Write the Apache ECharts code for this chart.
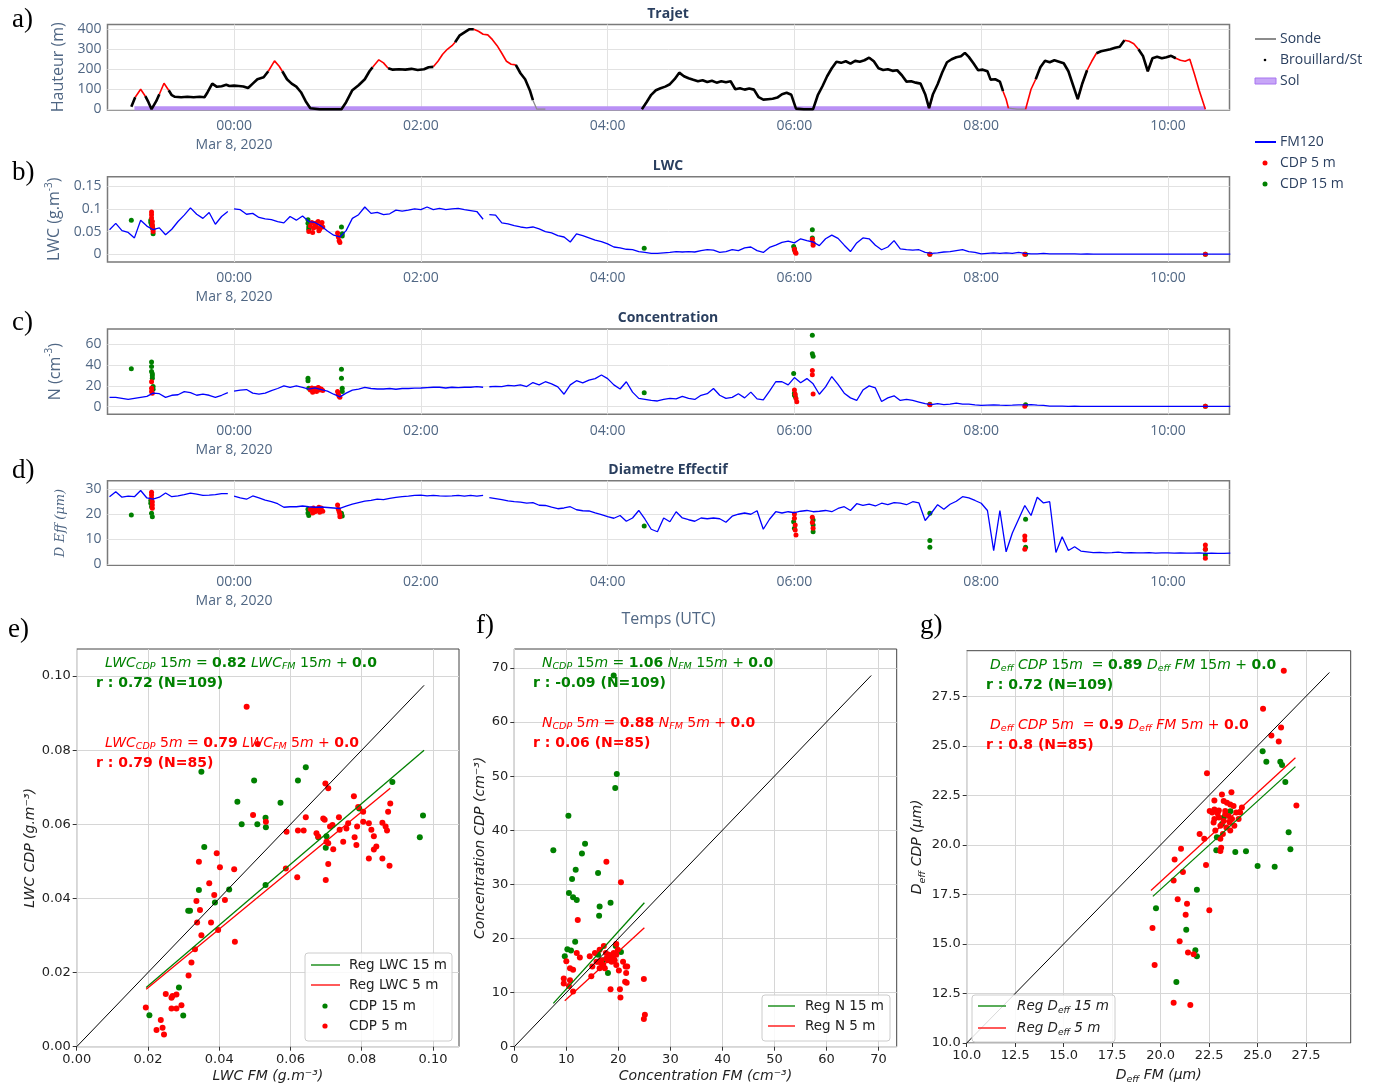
<!DOCTYPE html>
<html><head><meta charset="utf-8">
<script src="https://cdn.jsdelivr.net/npm/echarts@6/dist/echarts.min.js"></script>
<style>html,body{margin:0;padding:0;background:#fff}#c{width:1378px;height:1086px}</style>
</head><body><div id="c"></div>
<script>
// ---------------- time axis (minutes from 00:00, Mar 8 2020) ----------------
const timeTicks = [0, 120, 240, 360, 480, 600];

// ---------------- panel a : trajectory ----------------
const trajT = [-66,-63.5,-60,-57,-55,-53,-50,-48,-45,-42,-40,-38,-34,-30,-26,-22,-19,-17,-14,-11,-8,-5,-3,0,3,6,9,12,15,19,22,26,29,31,34,37,40,43,46,49,55,62,69,72,76,80,84,87,89,93,96,99,102,106,110,114,118,122,125,128,131,134,137,140,142,145,148,151,154,157,160,163,166,169,172,175,178,181,184,187,190,192,194.5,200,262,265,268,271,274,277,280,283,286,289,292,295,298,301,304,307,310,313,316,319,322,325,328,331,334,337,340,343,346,349,352,355,358,361,366,372,375,378,381,384,387,390,393,396,399,402,405,408,411,414,417,420,423,426,429,432,435,438,441,444,446.5,449,452,455,458,461,464,467,469.5,472,475,478,481,484,486,489,492,494,496,497.5,503,508.5,512,515,518,521,524,527,530,533,536,539,542,545,548,551,554,557,560,563,566,569,572,575,578,581,584,587,590,593,596,599,602,605,608,611,614,617,620,624];
const trajH = [12,60,100,65,35,0,40,75,130,95,70,62,60,62,60,62,60,85,128,112,115,122,116,118,116,114,106,128,150,160,190,242,215,190,150,128,113,85,40,5,0,0,0,35,95,120,150,190,210,247,232,205,198,200,198,202,196,200,210,212,240,275,300,318,335,370,385,400,400,390,375,372,348,318,280,240,225,222,180,150,95,45,0,0,0,35,72,95,105,113,125,150,183,165,155,147,140,145,136,142,133,140,135,140,100,105,98,104,98,60,48,50,52,58,75,82,72,3,0,0,70,115,165,205,238,232,240,228,242,238,245,258,240,205,196,200,192,195,170,138,140,133,128,75,5,75,125,185,235,250,260,265,282,262,230,195,198,190,148,150,138,90,50,5,0,0,100,150,210,242,235,245,238,230,190,120,50,130,195,240,280,290,295,300,308,313,345,340,328,300,265,190,255,262,255,260,267,255,245,240,250,175,95,0];
// time intervals (segment start times): red = outside fog, grey = probe ("Sonde") descents, none = no record
const trajRed = [[-63.5,-57],[-48,-42],[-14,-11],[-5,-3],[22,31],[89,99],[128,142],[154,181],[408,411],[446.5,449],[494,497.5],[508.5,515],[542,545],[548,554],[572,581],[587,590],[599,602],[605,625]];
const trajSonde = [[192,200],[497.5,508.5]];
const trajNone = [[200,262]];
const solT = [-64, 624];
const solH = [5, 5];

// ---------------- FM120 series (4-min sampling from -80 min) ----------------
const fmStart = -80, fmStep = 4;
const fmBreaks = [-2, 162];
const fmLWC = [0.054,0.068,0.052,0.048,0.036,0.075,0.062,0.054,0.058,0.043,0.055,0.072,0.086,0.102,0.088,0.079,0.092,0.066,0.083,0.094,
0.1,
0.098,0.088,0.09,0.081,0.078,0.076,0.072,0.069,0.083,0.075,0.084,0.072,0.07,0.062,0.051,0.042,0.038,0.052,0.079,0.087,0.104,0.09,0.092,0.087,0.089,0.097,0.095,0.097,0.1,0.098,0.104,0.098,0.101,0.098,0.1,0.101,0.098,0.096,0.094,0.077,
0.087,
0.086,0.069,0.067,0.063,0.06,0.058,0.06,0.056,0.05,0.047,0.041,0.038,0.027,0.045,0.041,0.036,0.031,0.028,0.023,0.016,0.014,0.011,0.01,0.006,0.004,0.002,0.002,0.003,0.004,0.006,0.005,
0.006,0.005,0.008,0.01,0.009,0.004,0.006,0.01,0.008,0.014,0.016,0.008,0.004,0.015,0.02,0.026,0.029,0.025,0.034,0.03,0.027,0.019,0.034,0.042,0.035,0.02,0.006,0.025,0.036,0.034,0.02,0.01,0.016,0.03,0.012,0.01,0.009,0.01,0.004,0.002,0.003,0.005,0.006,0.008,0.01,0.006,0.004,0.001,0.002,0.003,0.002,0.003,0.002,0.004,0.002,0.001,
0.001,0.002,0.001,0.001,0.001,0.0008,0.0008,0.0005,0.0006,0.0005,0.0005,0.0004,0.0005,0.0004,0.0004,0.0005,0.0004,0.0004,0.0003,0.0004,0.0004,0.0003,0.0003,0.0004,0.0003,0.0003,0.0003,0.0004,0.0003,0.0003,0.0003,0.0003];
const fmN = [9,9,8,7,8,9,10,13,12.5,9,11,11.5,14.5,13.5,11,12,11,9,11,13.5,
15,
16,16.5,13,12,13,15.5,17.5,20,18.5,20,18.5,17,18,16.5,15,12,9.5,13,16,17,18.5,17.5,17,17,17.5,16.8,17.5,17.5,17.8,18,18.4,18.7,18.7,18,18.7,18.4,18.7,18.7,19.4,18.7,
19.2,
19.5,19.4,20.6,20,21,19.4,23.2,21,24,22,19,12,21,25,23,25.5,27,30.5,27,21,17,24,14,8,7,6,5.5,7,8,7.5,10,
8,7,11,12.5,17.5,11,8,9,12.5,8.5,14,7.5,6.5,15,24,24,21,28,23,27,22,12,19,29,21.5,13,8.5,6,16,20,18,5,8.5,10.5,6,7,6,4.5,3,2,3,2,2.5,3.5,2.5,2.5,1.8,1.2,1.5,1.8,1.5,1.3,1.5,1.8,1.7,2,1.5,1.2,
0.6,0.5,0.5,0.4,0.5,0.4,0.4,0.4,0.3,0.4,0.3,0.3,0.4,0.3,0.3,0.3,0.3,0.3,0.3,0.3,0.3,0.3,0.3,0.3,0.3,0.3,0.3,0.3,0.3,0.3];
const fmD = [27,29,26.8,27.2,27,29.5,26.5,26,26.8,28.5,27,27.3,27.8,28.4,28,27.5,27.6,27.8,28.2,28.2,
27.2,
26.5,26,27.3,26.5,25.6,25,24.2,22.8,23,23,23.3,23,22.8,22.9,22.7,22.5,22.3,23.2,24,24.6,25.2,25.5,26,25.8,26.3,26.7,27,27.2,27.5,27.6,27.3,27.5,27.3,27.2,27.3,27.5,27.2,27.5,27.2,27.5,
26.6,
26.2,25.8,25.3,25,24.8,24.4,24.6,23.6,23.5,22.8,22.2,22.5,23,21.8,21.4,21.3,20.5,19.8,19,18.4,19.5,17.2,18.5,21.5,18,14,13,18.5,17,21,18.5,
17.8,17.2,18.5,18.2,18.5,18.2,16.8,19.2,20,20.5,20,21.4,14,18,21,20.5,21,20.6,21.2,21.5,21,21.2,21.5,21,22.3,23,21.5,24.2,23.5,24,23.3,24.4,23.8,24.6,24.4,23.8,25,24.5,17.5,20.5,23.8,22,24,25.2,27,26.5,25.5,24.4,21.5,5.5,21.5,5,12.5,18,23.5,19.5,26.8,24.5,25,4.7,11,5.5,7,5.3,5,
4.7,4.8,4.6,4.7,4.9,4.6,4.7,4.6,4.6,4.7,4.5,4.6,4.6,4.5,4.6,4.5,4.5,4.6,4.4,4.5,4.4,4.4,4.5];

// ---------------- CDP points on time panels ----------------
const lwc5T = [-53,-53,-53,-52.5,-52.5,-52.5,-52,-52,48,49,50,51,52,53,54,55,56,57,50.5,52.5,54.5,56.5,66.5,67,67.5,68,360,360.5,361,371.5,372,372,447,508,624];
const lwc5V = [0.093,0.087,0.08,0.072,0.065,0.06,0.055,0.05,0.05,0.062,0.07,0.058,0.066,0.06,0.072,0.055,0.064,0.06,0.048,0.068,0.052,0.07,0.047,0.038,0.03,0.026,0.011,0.005,0.002,0.033,0.025,0.02,0.0,0.0,0.0];
const lwc15T = [-66,-53.5,-53.5,-53,-53,-52.5,-52.5,-52,47.5,47.5,48,48,69,69.5,69.5,263.5,359.5,360,360,371.5,371.5,447,508.5,624];
const lwc15V = [0.075,0.075,0.07,0.068,0.065,0.062,0.058,0.045,0.076,0.068,0.06,0.055,0.06,0.045,0.04,0.013,0.017,0.012,0.01,0.054,0.036,0.0,0.0,0.0];
const n5T = [-53,-53,-53,-52.5,49,50,51,52,53,54,55,56,57,50.5,52.5,54.5,66.5,67,67.5,68,360,360.5,361,361.5,371.5,371.5,372,447,508,624];
const n5V = [24,17.7,14.5,12.9,16,18,15,17.5,14.5,18.5,16,17,15.5,14,16.5,18,14.5,12,10,9,16,12,8,4.8,34.8,30.6,12.3,2,0.5,0.5];
const n15T = [-66,-53,-53,-53,-52.5,-52.5,-52.5,-52,-52,47.5,47.5,48,69,69,69.5,69.5,263.5,359.5,360,360,360.5,371.5,371.5,372,447,508.5,624];
const n15V = [36.5,43,38.7,33.9,31.6,29.7,27.4,19.4,16.8,27.4,25,17.7,36,27.4,17.7,14.5,13.5,32,13,11.3,9.7,68.7,51,48.4,2.3,2,0.5];
const d5T = [-53,-53,-53,-52.5,-52.5,-52.5,49,50,51,52,53,54,55,56,57,50.5,52.5,54.5,66.5,67,67.5,68,68,360,360,360.5,360.5,361,371.5,371.5,372,508,508,508,624,624,624];
const d5V = [28.8,27.7,26.4,25,23.7,22.4,22,21.5,22.5,21,22,21.5,20.8,22.5,21.2,20.5,21.8,22.8,23.7,22,21,20,19,20.1,18.4,15.7,13.7,11.7,18.8,16.7,14.4,11.3,9.7,6,7.7,6,2.4];
const d15T = [-66,-53.5,-53.5,-53,-53,-52.5,47.5,47.5,48,69,69.5,263.5,359.5,360,372,372,372,447,447,447,508.5,508.5,624,624];
const d15V = [19.7,25.5,24.4,23,20.4,19,22,20.5,19.5,20.4,19.3,15.3,17,14.4,17.7,15.7,13,20.4,9.5,6.8,18,6.8,6,3.7];

// ---------------- scatter e) LWC ----------------
const eGx = [0.035,0.0498,0.0643,0.0621,0.0451,0.0572,0.0463,0.0507,0.053,0.0531,0.0358,0.0343,0.0428,0.0388,0.0313,0.0318,0.053,0.0699,0.0701,0.0886,0.0972,0.0963,0.0287,0.0204,0.0299,0.0678,0.0793];
const eGy = [0.0742,0.0718,0.0754,0.0718,0.0661,0.0658,0.060,0.060,0.0618,0.0592,0.0539,0.0423,0.0424,0.0389,0.0367,0.0367,0.0436,0.0537,0.0568,0.0714,0.0624,0.0565,0.016,0.0085,0.0084,0.0565,0.0643];
const eRx = [0.0477,0.0508,0.0698,0.0706,0.0778,0.079,0.0804,0.088,0.0874,0.0495,0.0531,0.0643,0.0692,0.0696,0.0637,0.0589,0.0621,0.0673,0.0678,0.0711,0.0718,0.0738,0.0736,0.0757,0.0762,0.078,0.0785,0.0787,0.0748,0.0701,0.0706,0.072,0.0706,0.0699,0.0804,0.082,0.0827,0.0834,0.0834,0.0841,0.082,0.0858,0.0867,0.0871,0.0858,0.0878,0.0587,0.0619,0.0393,0.0402,0.0442,0.0343,0.0372,0.0386,0.0416,0.0336,0.0346,0.0338,0.0377,0.035,0.0397,0.0444,0.0332,0.0322,0.0314,0.025,0.0266,0.0269,0.028,0.0266,0.028,0.0294,0.0194,0.0236,0.0241,0.0224,0.0245];
const eRy = [0.0917,0.0817,0.071,0.0697,0.0676,0.0647,0.0634,0.0656,0.0634,0.0625,0.0607,0.0619,0.0616,0.0612,0.0583,0.058,0.0583,0.0576,0.0567,0.0594,0.0598,0.0585,0.0619,0.0589,0.0603,0.0565,0.0544,0.0594,0.0553,0.0553,0.0549,0.0533,0.0493,0.045,0.0607,0.0603,0.0585,0.0568,0.0532,0.054,0.0508,0.0604,0.0594,0.0583,0.0508,0.0488,0.0481,0.0457,0.0522,0.0484,0.0479,0.0499,0.0441,0.0409,0.0396,0.0393,0.0369,0.0335,0.0335,0.0301,0.0315,0.0283,0.0263,0.0227,0.0192,0.0142,0.0132,0.0137,0.0141,0.0103,0.0103,0.0112,0.0106,0.0072,0.0051,0.0045,0.0033];
const eOne = [[0, 0], [0.0975, 0.0975]];
const eReg15 = [[0.0195, 0.016], [0.0975, 0.080]];
const eReg5 = [[0.0195, 0.0155], [0.088, 0.0697]];

// ---------------- scatter f) N ----------------
const fGx = [19.1,19.7,19.4,10.4,7.5,13.6,13.0,11.8,11.1,16.1,10.5,11.3,12.0,16.4,16.3,18.5,11.7,10.2,10.9,9.7,20.5,18.0,19.5,16.1,17.1];
const fGy = [68.6,50.4,47.8,42.7,36.3,37.5,35.7,32.7,31.0,32.1,28.4,27.6,27.1,25.9,24.2,26.6,19.4,18.0,17.8,16.7,17.5,13.6,18.6,17.0,16.0];
const fRx = [17.7,20.5,12.2,12.0,12.6,10.0,9.5,9.5,10.7,11.3,10.7,10.5,11.3,14.8,15.0,14.5,15.5,16.4,17.2,17.7,18.2,18.7,19.1,19.6,19.9,19.6,20.1,20.3,20.4,18.5,20.9,21.4,21.5,21.3,21.6,21.7,16.7,17.1,16.4,17.4,18.0,18.7,19.3,15.8,24.9,25.1,24.9,16.7,17.6,19.0,19.6,16.1];
const fRy = [34.2,30.4,23.4,17.3,16.5,15.8,12.6,11.7,14.5,14.2,12.3,11.2,10.2,13.0,14.8,16.7,17.3,17.9,18.6,16.3,17.0,15.7,17.3,19.0,17.9,15.1,14.1,10.6,9.1,10.6,15.7,14.8,13.6,12.0,11.8,14.8,16.0,15.1,14.5,14.5,16.0,16.7,16.0,15.7,12.5,5.9,5.1,15.4,17.3,16.3,17.0,15.7];
const fOne = [[0, 0], [68.6, 68.6]];
const fReg15 = [[7.5, 8.0], [25.0, 26.6]];
const fReg5 = [[9.7, 8.5], [25.0, 22.0]];

// ---------------- scatter g) Deff ----------------
const gGx = [25.26,25.45,26.17,26.26,26.43,26.6,26.69,25.0,25.88,23.85,24.4,22.87,23.16,23.25,22.9,21.87,19.76,21.32,21.79,21.87,20.81,23.6];
const gGy = [24.72,24.19,24.19,24.03,23.17,20.64,19.78,18.93,18.9,19.64,19.68,19.73,21.05,21.38,20.39,17.74,16.8,15.72,14.68,14.38,13.08,21.7];
const gRx = [26.35,25.28,25.71,26.21,26.09,22.39,27.0,22.01,22.25,21.05,20.72,21.15,20.67,22.34,20.88,21.36,21.29,22.51,19.58,20.98,21.41,21.7,19.69,20.67,21.53,23.16,23.65,22.77,23.25,23.42,22.53,22.77,23.0,23.33,23.59,23.76,23.9,24.19,24.1,22.77,23.0,23.25,23.51,23.68,24.02,22.73,23.08,23.39,23.8,22.82,23.21,23.59,23.08,23.12,23.08,23.56,23.33,22.94,22.66];
const gRy = [28.79,26.87,25.52,25.93,25.22,23.61,21.99,20.55,20.31,19.81,19.26,18.63,18.2,18.98,17.25,17.03,16.47,16.7,15.81,15.13,14.57,14.48,13.94,12.03,11.92,22.54,22.65,22.24,22.21,22.12,21.71,21.79,21.74,21.71,22.04,21.96,21.63,21.88,21.63,21.3,21.38,21.21,21.46,21.3,21.3,21.13,20.97,20.88,20.97,20.72,20.55,20.72,20.31,19.86,19.69,21.13,21.55,21.58,21.63];
const gOne = [[10, 10], [28.7, 28.7]];
const gReg15 = [[19.6, 17.4], [26.95, 23.95]];
const gReg5 = [[19.5, 17.7], [26.95, 24.4]];

// ---------------- helpers ----------------
const RED = '#ff0000', GREEN = '#008000', BLUE = '#0000ff';
const PLOTLY_TXT = '#2a3f5f', TICK = '#506784';
function pairs(t, v) { return t.map((x, i) => [x, v[i] === null ? '-' : v[i]]); }
const fmT = fmLWC.map((_, i) => fmStart + i * fmStep);
function fmPairs(v) {
  const out = pairs(fmT, v);
  fmBreaks.forEach(b => out.push([b, '-']));
  out.sort((p, q) => p[0] - q[0]);
  return out;
}
function inRanges(t, ranges) { return ranges.some(r => t >= r[0] && t < r[1]); }
function trajClass(i) {
  const t = trajT[i];
  if (inRanges(t, trajNone)) return 'n';
  if (inRanges(t, trajSonde)) return 'g';
  if (inRanges(t, trajRed)) return 'r';
  return 'k';
}
function trajSeg(cls) {
  return trajT.map((t, i) => (trajClass(i) === cls || (i > 0 && trajClass(i - 1) === cls)) ? [t, trajH[i]] : [t, '-']);
}
function fmtTime(v) {
  if (v === 0) return '00:00\nMar 8, 2020';
  const h = Math.round(v / 60);
  return (h < 10 ? '0' : '') + h + ':00';
}

const topGrid = { left: 107.5, width: 1122, show: true, borderColor: '#7a7a7a', borderWidth: 1.5, backgroundColor: '#fff' };
const grids = [
  Object.assign({}, topGrid, { top: 24.5, height: 85.5 }),
  Object.assign({}, topGrid, { top: 176.7, height: 85.3 }),
  Object.assign({}, topGrid, { top: 329, height: 85.3 }),
  Object.assign({}, topGrid, { top: 480.7, height: 84.6 }),
  { left: 76.7, top: 649, width: 382.3, height: 397.7, show: true, borderColor: '#444', borderWidth: 1 },
  { left: 514.3, top: 649, width: 382.4, height: 397.7, show: true, borderColor: '#444', borderWidth: 1 },
  { left: 966.7, top: 650.7, width: 384, height: 398.6, show: true, borderColor: '#444', borderWidth: 1 }
];

function topX(i, extra) {
  return Object.assign({
    type: 'value', gridIndex: i, min: -81.3, max: 639.5,
    axisLine: { show: false },
    axisTick: { show: false, customValues: timeTicks },
    axisLabel: { customValues: timeTicks, formatter: fmtTime, fontSize: 14, lineHeight: 19, color: TICK, fontFamily: 'Open Sans', margin: 7 },
    splitLine: { show: true, lineStyle: { color: '#e2e2e2', width: 1 } }
  }, extra || {});
}
const supRich = {
  a: { fontSize: 16, fontFamily: 'Open Sans', color: TICK },
  sup: { fontSize: 10, fontFamily: 'Open Sans', color: TICK, verticalAlign: 'top', lineHeight: 22 }
};
function topY(i, min, max, ticks, name, gap, nameStyle) {
  return {
    type: 'value', gridIndex: i, min: min, max: max,
    axisLine: { show: false },
    axisTick: { show: false, customValues: ticks },
    axisLabel: { customValues: ticks, fontSize: 14, color: TICK, fontFamily: 'Open Sans', margin: 6, formatter: v => String(v) },
    splitLine: { show: true, lineStyle: { color: '#e2e2e2', width: 1 } },
    name: name, nameLocation: 'middle', nameGap: gap,
    nameTextStyle: nameStyle || { fontSize: 16, fontFamily: 'Open Sans', color: TICK, rich: supRich }
  };
}
const mplLabel = { fontSize: 13, color: '#222', fontFamily: 'DejaVu Sans', margin: 6 };
const mplRich = {
  i: { fontStyle: 'italic', fontSize: 14, fontFamily: 'DejaVu Sans', color: '#222', lineHeight: 20 },
  s: { fontStyle: 'italic', fontSize: 9.5, fontFamily: 'DejaVu Sans', color: '#222', verticalAlign: 'bottom', lineHeight: 13 }
};
function botAxis(i, min, max, ticks, fmt, name, gap) {
  return {
    type: 'value', gridIndex: i, min: min, max: max,
    axisLine: { show: false },
    axisTick: { show: true, customValues: ticks, length: 4, lineStyle: { color: '#333' } },
    axisLabel: Object.assign({ customValues: ticks, formatter: fmt }, mplLabel),
    splitLine: { show: true, lineStyle: { color: '#d6d6d6', width: 1 } },
    name: name, nameLocation: 'middle', nameGap: gap,
    nameTextStyle: { fontSize: 14, fontStyle: 'italic', fontFamily: 'DejaVu Sans', color: '#222', rich: mplRich }
  };
}

const xAxes = [
  topX(0), topX(1), topX(2),
  topX(3, { name: 'Temps (UTC)', nameLocation: 'middle', nameGap: 41, nameTextStyle: { fontSize: 16, fontFamily: 'Open Sans', color: TICK } }),
  botAxis(4, 0, 0.1073, [0, 0.02, 0.04, 0.06, 0.08, 0.10], v => v.toFixed(2), 'LWC FM (g.m⁻³)', 23),
  botAxis(5, 0, 73.5, [0, 10, 20, 30, 40, 50, 60, 70], v => String(v), 'Concentration FM (cm⁻³)', 23),
  botAxis(6, 10, 29.8, [10, 12.5, 15, 17.5, 20, 22.5, 25, 27.5], v => v.toFixed(1), '{i|D}{s|eff}{i| FM (μm)}', 22)
];
const yAxes = [
  topY(0, -4, 424, [0, 100, 200, 300, 400], '{a|Hauteur (m)}', 41),
  topY(1, -0.017, 0.1706, [0, 0.05, 0.1, 0.15], '{a|LWC (g.m}{sup|-3}{a|)}', 41),
  topY(2, -7.3, 74.7, [0, 20, 40, 60], '{a|N (cm}{sup|-3}{a|)}', 41),
  topY(3, -0.4, 33.4, [0, 10, 20, 30], 'D Eff (μm)', 40, { fontSize: 13, fontFamily: 'DejaVu Serif', fontStyle: 'italic', color: TICK }),
  botAxis(4, 0, 0.1073, [0, 0.02, 0.04, 0.06, 0.08, 0.10], v => v.toFixed(2), 'LWC CDP (g.m⁻³)', 38),
  botAxis(5, 0, 73.5, [0, 10, 20, 30, 40, 50, 60, 70], v => String(v), 'Concentration CDP (cm⁻³)', 24),
  botAxis(6, 10, 29.8, [10, 12.5, 15, 17.5, 20, 22.5, 25, 27.5], v => v.toFixed(1), '{i|D}{s|eff}{i| CDP (μm)}', 37)
];

function line(name, gi, data, color, width, extra) {
  return Object.assign({ type: 'line', name: name, xAxisIndex: gi, yAxisIndex: gi, data: data, showSymbol: false, symbol: 'none',
    lineStyle: { color: color, width: width }, itemStyle: { color: color }, connectNulls: false, clip: true, silent: true }, extra || {});
}
function dots(name, gi, data, color, size) {
  return { type: 'scatter', name: name, xAxisIndex: gi, yAxisIndex: gi, data: data, symbolSize: size, itemStyle: { color: color, opacity: 1 }, silent: true };
}

const series = [
  line('Sol', 0, pairs(solT, solH), '#b990f5', 4),
  line('Sonde', 0, trajSeg('g'), '#8c8c8c', 1.3),
  line('Trajet', 0, trajSeg('r'), RED, 1.6),
  line('Brouillard/St', 0, trajSeg('k'), '#000', 2.6),

  line('FM120', 1, fmPairs(fmLWC), BLUE, 1.3),
  dots('CDP 15 m', 1, pairs(lwc15T, lwc15V), GREEN, 5),
  dots('CDP 5 m', 1, pairs(lwc5T, lwc5V), RED, 5),

  line('FM120 N', 2, fmPairs(fmN), BLUE, 1.3),
  dots('CDP 15 m N', 2, pairs(n15T, n15V), GREEN, 5),
  dots('CDP 5 m N', 2, pairs(n5T, n5V), RED, 5),

  line('FM120 D', 3, fmPairs(fmD), BLUE, 1.3),
  dots('CDP 15 m D', 3, pairs(d15T, d15V), GREEN, 5),
  dots('CDP 5 m D', 3, pairs(d5T, d5V), RED, 5),

  dots('e 15', 4, pairs(eGx, eGy), GREEN, 6),
  dots('e 5', 4, pairs(eRx, eRy), RED, 6),
  line('e 1:1', 4, eOne, '#000', 1),
  line('Reg LWC 15 m', 4, eReg15, GREEN, 1.3),
  line('Reg LWC 5 m', 4, eReg5, RED, 1.3),

  dots('f 15', 5, pairs(fGx, fGy), GREEN, 6),
  dots('f 5', 5, pairs(fRx, fRy), RED, 6),
  line('f 1:1', 5, fOne, '#000', 1),
  line('Reg N 15 m', 5, fReg15, GREEN, 1.3),
  line('Reg N 5 m', 5, fReg5, RED, 1.3),

  dots('g 15', 6, pairs(gGx, gGy), GREEN, 6),
  dots('g 5', 6, pairs(gRx, gRy), RED, 6),
  line('g 1:1', 6, gOne, '#000', 1),
  line('Reg Deff 15 m', 6, gReg15, GREEN, 1.3),
  line('Reg Deff 5 m', 6, gReg5, RED, 1.3)
];

// ---------------- graphic texts / legends ----------------
function txt(x, y, text, font, fill, align, extra) {
  return { type: 'text', x: x, y: y, z: 100, silent: true, style: Object.assign({ text: text, font: font, fill: fill, align: align || 'left', verticalAlign: 'middle' }, extra || {}) };
}
function seg(x1, x2, y, color, w) { return { type: 'line', z: 100, silent: true, shape: { x1: x1, y1: y, x2: x2, y2: y }, style: { stroke: color, lineWidth: w } }; }
function dot(cx, cy, r, color) { return { type: 'circle', z: 100, silent: true, shape: { cx: cx, cy: cy, r: r }, style: { fill: color } }; }
function box(x, y, w, h) { return { type: 'rect', z: 99, silent: true, shape: { x: x, y: y, width: w, height: h, r: 3 }, style: { fill: 'rgba(255,255,255,0.85)', stroke: '#cccccc', lineWidth: 1 } }; }

function eqRich(color) {
  return {
    i: { fontStyle: 'italic', fontSize: 14, fontFamily: 'DejaVu Sans', fill: color, lineHeight: 18 },
    s: { fontStyle: 'italic', fontSize: 9.5, fontFamily: 'DejaVu Sans', fill: color, verticalAlign: 'bottom', lineHeight: 12 },
    n: { fontSize: 14, fontFamily: 'DejaVu Sans', fill: color, lineHeight: 18 },
    b: { fontWeight: 'bold', fontSize: 14, fontFamily: 'DejaVu Sans', fill: color, lineHeight: 18 }
  };
}
function eq(x, y, text, color) {
  return { type: 'text', x: x, y: y, z: 100, silent: true, style: { text: text, rich: eqRich(color), fill: color, align: 'left', verticalAlign: 'middle' } };
}
const boldR = 'bold 14px "DejaVu Sans"';
const legFont = '14px "Open Sans"';
const mplFont = '13.5px "DejaVu Sans"';
const panelFont = '27px "Liberation Serif"';
const titleFont = 'bold 14px "Open Sans"';

const legRich = {
  i: { fontStyle: 'italic', fontSize: 13.5, fontFamily: 'DejaVu Sans', fill: '#222', lineHeight: 18 },
  s: { fontStyle: 'italic', fontSize: 9, fontFamily: 'DejaVu Sans', fill: '#222', verticalAlign: 'bottom', lineHeight: 12 }
};

const graphics = [
  // panel letters
  txt(12, 20, 'a)', panelFont, '#000'),
  txt(12, 173, 'b)', panelFont, '#000'),
  txt(12, 323, 'c)', panelFont, '#000'),
  txt(12, 471, 'd)', panelFont, '#000'),
  txt(8, 630, 'e)', panelFont, '#000'),
  txt(476, 626, 'f)', panelFont, '#000'),
  txt(920, 626, 'g)', panelFont, '#000'),
  // titles
  txt(668, 14, 'Trajet', titleFont, PLOTLY_TXT, 'center'),
  txt(668, 166, 'LWC', titleFont, PLOTLY_TXT, 'center'),
  txt(668, 318, 'Concentration', titleFont, PLOTLY_TXT, 'center'),
  txt(668, 470, 'Diametre Effectif', titleFont, PLOTLY_TXT, 'center'),
  // top legend
  seg(1255, 1276, 39, '#8c8c8c', 2), txt(1280, 39, 'Sonde', legFont, PLOTLY_TXT),
  dot(1265, 60, 1.3, '#000'), txt(1280, 60, 'Brouillard/St', legFont, PLOTLY_TXT),
  { type: 'rect', z: 100, silent: true, shape: { x: 1255, y: 78, width: 21, height: 6 }, style: { fill: '#c7a6f7', stroke: '#a874f0', lineWidth: 1 } },
  txt(1280, 81, 'Sol', legFont, PLOTLY_TXT),
  seg(1255, 1276, 142, BLUE, 2), txt(1280, 142, 'FM120', legFont, PLOTLY_TXT),
  dot(1265, 163, 2.5, RED), txt(1280, 163, 'CDP 5 m', legFont, PLOTLY_TXT),
  dot(1265, 184, 2.5, GREEN), txt(1280, 184, 'CDP 15 m', legFont, PLOTLY_TXT),
  // e) annotations
  eq(105, 663, '{i|LWC}{s|CDP}{n| 15}{i|m}{n| = }{b|0.82}{i| LWC}{s|FM}{n| 15}{i|m}{n| + }{b|0.0}', GREEN),
  txt(96, 683, 'r : 0.72 (N=109)', boldR, GREEN),
  eq(105, 743, '{i|LWC}{s|CDP}{n| 5}{i|m}{n| = }{b|0.79}{i| LWC}{s|FM}{n| 5}{i|m}{n| + }{b|0.0}', RED),
  txt(96, 763, 'r : 0.79 (N=85)', boldR, RED),
  // f) annotations
  eq(542, 663, '{i|N}{s|CDP}{n| 15}{i|m}{n| = }{b|1.06}{i| N}{s|FM}{n| 15}{i|m}{n| + }{b|0.0}', GREEN),
  txt(533, 683, 'r : -0.09 (N=109)', boldR, GREEN),
  eq(542, 723, '{i|N}{s|CDP}{n| 5}{i|m}{n| = }{b|0.88}{i| N}{s|FM}{n| 5}{i|m}{n| + }{b|0.0}', RED),
  txt(533, 743, 'r : 0.06 (N=85)', boldR, RED),
  // g) annotations
  eq(990, 665, '{i|D}{s|eff}{i| CDP }{n|15}{i|m}{n|  = }{b|0.89}{i| D}{s|eff}{i| FM }{n|15}{i|m}{n| + }{b|0.0}', GREEN),
  txt(986, 685, 'r : 0.72 (N=109)', boldR, GREEN),
  eq(990, 725, '{i|D}{s|eff}{i| CDP }{n|5}{i|m}{n|  = }{b|0.9}{i| D}{s|eff}{i| FM }{n|5}{i|m}{n| + }{b|0.0}', RED),
  txt(986, 745, 'r : 0.8 (N=85)', boldR, RED),
  // e) legend
  box(305, 953, 147, 88),
  seg(311, 340, 965, GREEN, 1.3), txt(349, 965, 'Reg LWC 15 m', mplFont, '#222'),
  seg(311, 340, 985, RED, 1.3), txt(349, 985, 'Reg LWC 5 m', mplFont, '#222'),
  dot(325, 1006, 2.6, GREEN), txt(349, 1006, 'CDP 15 m', mplFont, '#222'),
  dot(325, 1026, 2.6, RED), txt(349, 1026, 'CDP 5 m', mplFont, '#222'),
  // f) legend
  box(762, 995, 128, 46),
  seg(768, 795, 1006, GREEN, 1.3), txt(805, 1006, 'Reg N 15 m', mplFont, '#222'),
  seg(768, 795, 1026, RED, 1.3), txt(805, 1026, 'Reg N 5 m', mplFont, '#222'),
  // g) legend
  box(972, 995, 143, 47),
  seg(978, 1006, 1006, GREEN, 1.3),
  { type: 'text', x: 1017, y: 1006, z: 100, silent: true, style: { text: '{i|Reg D}{s|eff}{i| 15 m}', rich: legRich, align: 'left', verticalAlign: 'middle' } },
  seg(978, 1006, 1028, RED, 1.3),
  { type: 'text', x: 1017, y: 1028, z: 100, silent: true, style: { text: '{i|Reg D}{s|eff}{i| 5 m}', rich: legRich, align: 'left', verticalAlign: 'middle' } }
];

const chart = echarts.init(document.getElementById('c'), null, { renderer: 'canvas' });
chart.setOption({
  animation: false,
  backgroundColor: '#ffffff',
  grid: grids,
  xAxis: xAxes,
  yAxis: yAxes,
  series: series,
  graphic: graphics
});
</script>
</body></html>
